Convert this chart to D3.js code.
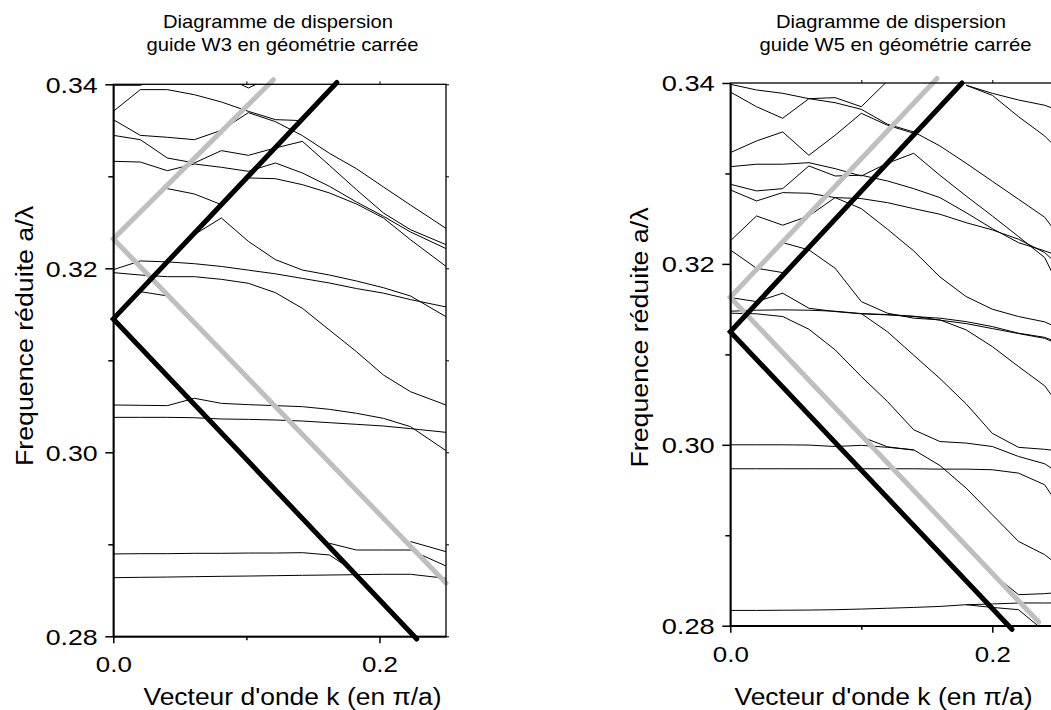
<!DOCTYPE html>
<html><head><meta charset="utf-8">
<script src="https://cdn.jsdelivr.net/npm/d3@7"></script>
<style>
body{margin:0;background:#fff;}
svg{display:block;}
text{font-family:Arial,"Liberation Sans",sans-serif;fill:#000;}
</style>
</head><body>
<svg id="c" width="1051" height="710"></svg>
<script>
// ---------- DATA ----------
// Reduced wavevector samples (units of pi/a)
const kW3 = [0, 0.0203, 0.0406, 0.0609, 0.0812, 0.1015, 0.1218, 0.1421, 0.1624, 0.1827, 0.2030, 0.2233, 0.25];
const kW5 = [0, 0.02, 0.04, 0.06, 0.08, 0.10, 0.12, 0.14, 0.16, 0.18, 0.20, 0.22, 0.24, 0.245];

// W3 guide bands (reduced frequency a/lambda), null = not drawn
const w3BandA = [0.33706, 0.33942, 0.33942, 0.33887, 0.33808, 0.33706, 0.33616, 0.33605, null, null, null, null, null];
const w3BandH = [0.33989, 0.33989, 0.3410, null, null, null, null, null, null, null, null, null, null];
const w3BandI = [null, null, null, null, 0.3410, 0.33960, 0.3410, null, null, null, null, null, null];
const w3BandB = [0.33616, 0.33445, 0.33424, 0.33398, 0.33500, 0.33692, 0.33594, 0.33442, 0.33250, 0.33083, 0.32884, 0.32688, 0.32434];
const w3BandC = [0.33445, 0.33398, 0.33199, 0.33145, 0.33279, 0.33228, 0.33308, 0.33380, 0.33119, 0.32855, 0.32601, 0.32420, 0.32257];
const w3BandD = [0.33163, 0.33155, 0.33061, 0.33134, 0.33098, 0.33054, 0.33145, 0.33036, 0.32891, 0.32721, 0.32565, 0.32395, 0.32214];
const w3BandE = [null, null, 0.32866, 0.32808, 0.32692, null, null, null, null, null, null, null, null];
const w3BandF = [null, null, null, 0.32366, 0.32547, 0.32293, 0.32094, 0.31981, 0.31927, 0.31862, 0.31789, 0.31699, 0.31474];
const w3BandG = [null, null, null, null, null, 0.32982, 0.32974, 0.32909, 0.32819, 0.32699, 0.32547, 0.32311, 0.32021];
const w3BandS = [0.31985, 0.3208, 0.3207, 0.3205, 0.3202, 0.3198, 0.3194, 0.3189, 0.3184, 0.3178, 0.3173, 0.3166, 0.3158];
const w3BandT = [0.31953, 0.31927, 0.31909, 0.31909, 0.31880, 0.31837, 0.31735, 0.31565, 0.31329, 0.31094, 0.30840, 0.30659, 0.30514];
const w3BandU = [null, 0.31746, 0.3170, null, null, null, null, null, null, null, null, null, null];
const w3BandQ = [0.30514, 0.30511, 0.30507, 0.30587, 0.30532, 0.30518, 0.30507, 0.30496, 0.30467, 0.30424, 0.30369, 0.30279, 0.30018];
const w3BandR = [0.30380, 0.30380, 0.30380, 0.30376, 0.30362, 0.30358, 0.30351, 0.30340, 0.30322, 0.30304, 0.30286, 0.30257, 0.30217];
const w3BandW = [0.28895, 0.28898, 0.28898, 0.28902, 0.28902, 0.28905, 0.28905, 0.28909, 0.28884, 0.2869, null, null, null];
const w3BandX = [null, null, null, null, null, null, null, null, 0.29011, 0.28938, 0.28938, 0.28938, 0.28764];
const w3BandY = [null, null, null, null, null, null, null, null, null, null, null, 0.2903, 0.28920];
const w3BandZ = [0.28637, 0.28641, 0.28644, 0.28648, 0.28652, 0.28655, 0.28659, 0.28663, 0.28666, 0.28670, 0.28674, 0.28674, 0.28630];

// W5 guide bands
const w5BandA = [0.33986, 0.33923, 0.33886, 0.33827, 0.33838, 0.33738, 0.34022, 0.34254, null, null, null, null, null, null];
const w5BandB = [0.33901, 0.33738, 0.33610, 0.33827, 0.33782, 0.33709, 0.33544, 0.33459, 0.33304, 0.33113, 0.32914, 0.32715, 0.32516, 0.32420];
const w5BandC = [null, null, null, null, null, null, null, null, null, 0.33975, 0.33886, 0.33812, 0.33754, 0.33727];
const w5BandD = [null, null, null, null, null, null, null, null, null, 0.33975, 0.33864, 0.33628, 0.33414, 0.33340];
const w5BandE = [0.33230, 0.33359, 0.33459, 0.33201, 0.33422, 0.33665, 0.33533, 0.33444, null, null, null, null, null, null];
const w5BandF = [0.33075, 0.33102, 0.33102, 0.33119, 0.33053, 0.32972, 0.33113, 0.33223, 0.32980, 0.32751, 0.32530, 0.32302, 0.32070, 0.31923];
const w5BandG = [0.32881, 0.32807, 0.32832, 0.33083, 0.32972, 0.32980, 0.32917, 0.32832, 0.32733, 0.32567, 0.32390, 0.32235, 0.32144, 0.32118];
const w5BandH = [0.32818, 0.32696, 0.32788, 0.32781, 0.32733, 0.32722, 0.32677, 0.32611, 0.32549, 0.32456, 0.32376, 0.32273, 0.32125, 0.32059];
const w5BandI = [0.32254, 0.32530, 0.32428, 0.32530, 0.32733, 0.32611, 0.32383, 0.32144, 0.31856, 0.31639, 0.31499, 0.31418, 0.31359, 0.31326];
const w5BandV = [0.32155, 0.31952, 0.31904, null, null, null, null, null, null, null, null, null, null, null];
const w5BandJ = [null, null, 0.32235, 0.32155, 0.31952, 0.31583, 0.31455, 0.31400, 0.31381, 0.31271, 0.31086, 0.30865, 0.30652, 0.30552];
const w5BandL = [0.31628, 0.31583, 0.31676, 0.31510, 0.31473, 0.31448, 0.31436, 0.31418, 0.31400, 0.31362, 0.31307, 0.31234, 0.31188, 0.31160];
const w5BandK = [0.31477, 0.31488, 0.31492, 0.31488, 0.31477, 0.31451, 0.31440, 0.31422, 0.31378, 0.31340, 0.31285, 0.31230, 0.31177, 0.31146];
const w5BandT = [null, null, null, null, null, 0.31451, 0.31249, 0.30991, 0.30733, 0.30453, 0.30127, 0.29972, 0.29950, 0.29941];
const w5BandM = [0.31455, 0.31448, 0.31418, 0.31278, 0.31050, 0.30755, 0.30478, 0.30166, 0.30036, 0.30019, 0.29981, 0.29871, 0.29790, 0.29743];
const w5BandS = [0.30000, 0.30000, 0.30000, 0.29997, 0.29981, 0.29994, 0.29972, 0.29945, 0.29771, 0.29522, 0.29227, 0.28932, 0.28785, 0.28729];
const w5BandU = [null, null, null, null, null, 0.30088, 0.29978, 0.29941, null, null, null, null, null, null];
const w5BandR = [0.29735, 0.29735, 0.29735, 0.29735, 0.29735, 0.29735, 0.29735, 0.29735, 0.29731, 0.29731, 0.29724, 0.29687, 0.29558, 0.29448];
const w5BandN = [0.28169, 0.28169, 0.28171, 0.28173, 0.28177, 0.28184, 0.28193, 0.28202, 0.28213, 0.28232, 0.28240, 0.28251, 0.28251, 0.28251];
const w5BandO = [null, null, null, null, null, null, null, null, null, 0.28232, 0.28202, 0.28177, 0.27937, null];
const w5BandP = [null, null, null, null, null, null, null, null, null, null, 0.28577, 0.28343, 0.28354, 0.28361];

// Light lines (thick): k and frequency at the three vertices
const w3BlackK = [0.168, 0, 0.228];
const w3BlackF = [0.3402, 0.3145, 0.2797];
const w3GrayK = [0.1203, 0, 0.25];
const w3GrayF = [0.3405, 0.3232, 0.2858];
const w5BlackK = [0.1769, 0, 0.215];
const w5BlackF = [0.3400, 0.3125, 0.2796];
const w5GrayK = [0.1578, 0, 0.2354];
const w5GrayF = [0.3405, 0.3163, 0.2804];

// Tick values / labels
const yMajorTicks = [0.28, 0.30, 0.32, 0.34];
const yMinorTicks = [0.29, 0.31, 0.33];
const xMajorTicks = [0.0, 0.2];
const xMinorTicks = [0.1];
const titleLine1 = "Diagramme de dispersion";
const titleW3 = "guide W3 en géométrie carrée";
const titleW5 = "guide W5 en géométrie carrée";
const xTitle = "Vecteur d'onde k (en \u03C0/a)";
const yTitle = "Frequence réduite a/\u03BB";

// ---------- DRAW ----------
const svg = d3.select("#c");

function panel(p, k, bands, gray, black, title2) {
  const x = d3.scaleLinear().domain([0, 0.25]).range([p.x0, p.x1]);
  const y = d3.scaleLinear().domain([0.28, 0.34]).range([p.yb, p.yt]);
  const g = svg.append("g");

  g.append("clipPath").attr("id", p.id)
    .append("rect").attr("x", p.x0).attr("y", p.yt)
    .attr("width", p.x1 - p.x0).attr("height", p.yb - p.yt);

  const line = d3.line().defined(d => d[1] != null).x(d => x(d[0])).y(d => y(d[1]));
  const bg = g.append("g").attr("clip-path", `url(#${p.id})`);
  bands.forEach(b => {
    bg.append("path").attr("d", line(b.map((v, i) => [k[i], v])))
      .attr("fill", "none").attr("stroke", "#000").attr("stroke-width", 1)
      .attr("stroke-linejoin", "round");
  });

  const thick = (ks, fs, col) => g.append("path")
    .attr("d", d3.line().x(d => x(d[0])).y(d => y(d[1]))(ks.map((kk, i) => [kk, fs[i]])))
    .attr("fill", "none").attr("stroke", col).attr("stroke-width", 5)
    .attr("stroke-linejoin", "miter").attr("stroke-linecap", "round");
  thick(gray[0], gray[1], "#bfbfbf");
  thick(black[0], black[1], "#000");

  // frame
  g.append("rect").attr("x", p.x0).attr("y", p.yt).attr("width", p.x1 - p.x0).attr("height", p.yb - p.yt)
    .attr("fill", "none").attr("stroke", "#000").attr("stroke-width", 1.3);

  // axes
  const ax = g.append("g").attr("transform", `translate(${p.x0},0)`)
    .call(d3.axisLeft(y).tickValues(yMajorTicks).tickFormat(d3.format(".2f")).tickSize(8).tickSizeOuter(0).tickPadding(7.6));
  ax.select(".domain").attr("stroke-width", 1.8);
  ax.selectAll("line").attr("stroke-width", 1.5);
  ax.selectAll("text").attr("font-size", 22).attr("font-family", "Arial, 'Liberation Sans', sans-serif")
    .attr("dy", "0.36em").attr("textLength", p.ylabW).attr("lengthAdjust", "spacingAndGlyphs");
  g.append("g").attr("transform", `translate(${p.x0},0)`)
    .call(d3.axisLeft(y).tickValues(yMinorTicks).tickFormat("").tickSize(5).tickSizeOuter(0))
    .call(s => s.select(".domain").remove()).selectAll("line").attr("stroke-width", 1.5);

  const bx = g.append("g").attr("transform", `translate(0,${p.yb})`)
    .call(d3.axisBottom(x).tickValues(xMajorTicks).tickFormat(d3.format(".1f")).tickSize(7).tickSizeOuter(0));
  bx.select(".domain").attr("stroke-width", 1.8);
  bx.selectAll("line").attr("stroke-width", 1.5);
  bx.selectAll("text").attr("font-size", 22).attr("font-family", "Arial, 'Liberation Sans', sans-serif")
    .attr("y", 36).attr("dy", null).attr("textLength", p.xlabW).attr("lengthAdjust", "spacingAndGlyphs");
  g.append("g").attr("transform", `translate(0,${p.yb})`)
    .call(d3.axisBottom(x).tickValues(xMinorTicks).tickFormat("").tickSize(4).tickSizeOuter(0))
    .call(s => s.select(".domain").remove()).selectAll("line").attr("stroke-width", 1.5);

  // mirrored small ticks on top and right
  g.append("g").attr("transform", `translate(0,${p.yt})`)
    .call(d3.axisTop(x).tickValues([0.1, 0.2]).tickFormat("").tickSize(3).tickSizeOuter(0))
    .call(s => s.select(".domain").remove());
  g.append("g").attr("transform", `translate(${p.x1},0)`)
    .call(d3.axisRight(y).tickValues(yMajorTicks.concat(yMinorTicks)).tickFormat("").tickSize(3).tickSizeOuter(0))
    .call(s => s.select(".domain").remove());

  // titles
  g.append("text").attr("x", p.t1x).attr("y", 28).attr("text-anchor", "middle")
    .attr("font-size", 18.5).attr("textLength", 230).attr("lengthAdjust", "spacingAndGlyphs").text(titleLine1);
  g.append("text").attr("x", p.t2x).attr("y", 51).attr("text-anchor", "middle")
    .attr("font-size", 18.5).attr("textLength", 272).attr("lengthAdjust", "spacingAndGlyphs").text(title2);
  g.append("text").attr("x", p.xtx).attr("y", 705).attr("text-anchor", "middle")
    .attr("font-size", 23).attr("textLength", 298).attr("lengthAdjust", "spacingAndGlyphs").text(xTitle);
  g.append("text").attr("transform", `translate(${p.ytx},${p.yty}) rotate(-90)`).attr("text-anchor", "middle")
    .attr("font-size", 23).attr("textLength", 260).attr("lengthAdjust", "spacingAndGlyphs").text(yTitle);
}

panel({id: "clipW3", x0: 113.3, x1: 446, yt: 84.3, yb: 636.3, ylabW: 52, xlabW: 36,
       t1x: 278, t2x: 282.5, xtx: 292.5, ytx: 33, yty: 336},
      kW3,
      [w3BandA, w3BandH, w3BandI, w3BandB, w3BandC, w3BandD, w3BandE, w3BandF, w3BandG, w3BandS, w3BandT,
       w3BandU, w3BandQ, w3BandR, w3BandW, w3BandX, w3BandY, w3BandZ],
      [w3GrayK, w3GrayF], [w3BlackK, w3BlackF], titleW3);

panel({id: "clipW5", x0: 730.3, x1: 1057.8, yt: 83, yb: 625.7, ylabW: 53, xlabW: 36,
       t1x: 891, t2x: 895.5, xtx: 883.5, ytx: 648.3, yty: 337.5},
      kW5,
      [w5BandA, w5BandB, w5BandC, w5BandD, w5BandE, w5BandF, w5BandG, w5BandH, w5BandI, w5BandV, w5BandJ,
       w5BandL, w5BandK, w5BandT, w5BandM, w5BandS, w5BandU, w5BandR, w5BandN, w5BandO, w5BandP],
      [w5GrayK, w5GrayF], [w5BlackK, w5BlackF], titleW5);
</script>
</body></html>
